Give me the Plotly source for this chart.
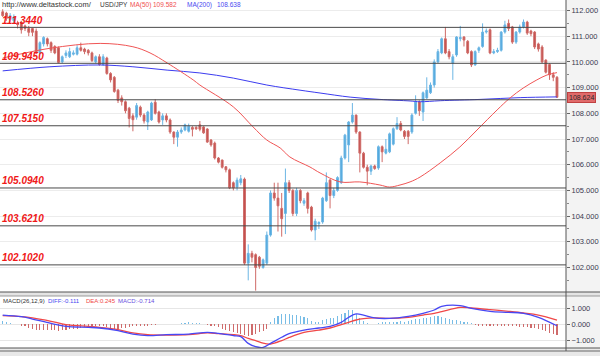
import plotly.graph_objects as go

# ---------------- data ----------------
opens = [111.95, 111.9, 111.65, 111.6, 111.5, 111.55, 111.4, 111.3, 111.3, 111.2,
         110.35, 110.7, 110.9, 110.75, 110.6, 110.55, 110.0, 110.25, 110.2, 110.3,
         110.3, 110.55, 110.5, 110.45, 110.35, 110.0, 110.2, 109.9, 110.15, 109.55,
         109.4, 108.9, 108.6, 108.45, 108.2, 107.9, 107.85, 108.24, 107.93, 107.66,
         107.74, 108.43, 108.05, 107.74, 107.9, 107.74, 107.27, 107.07, 107.27, 107.35,
         107.3, 107.45, 107.45, 107.55, 107.47, 107.39, 106.96, 106.84, 106.26, 106.18,
         105.92, 105.8, 105.3, 105.13, 105.3, 105.44, 102.17, 102.55, 102.5, 102.4,
         102.0, 102.17, 103.26, 104.9, 104.7, 104.3, 104.1, 105.3, 105.0, 104.1,
         105.0, 104.5, 104.9, 104.35, 103.46, 103.7, 103.77, 104.6, 105.4, 104.8,
         105.0, 105.3, 106.26, 106.77, 107.66, 107.93, 107.27, 106.45, 105.9, 105.75,
         105.95, 105.87, 106.7, 106.45, 106.5, 106.8, 107.4, 107.6, 107.3, 107.3,
         107.27, 108.0, 108.44, 108.05, 108.6, 108.8, 109.1, 110.0, 110.35, 110.9,
         110.4, 109.95, 110.27, 110.9, 110.97, 110.8, 110.4, 109.88, 110.45, 110.6,
         111.16, 111.25, 110.35, 110.4, 110.45, 111.16, 111.5, 111.36, 110.77, 111.16,
         111.36, 111.55, 111.2, 111.16, 110.7, 110.58, 110.07, 109.9, 109.5, 109.4]
highs = [112.05, 111.95, 111.9, 111.85, 111.6, 111.6, 111.45, 111.4, 111.3, 111.3,
         110.8, 111.0, 110.95, 110.8, 110.65, 110.6, 110.25, 110.45, 110.55, 110.45,
         110.65, 110.75, 110.55, 110.5, 110.4, 110.25, 110.3, 110.3, 110.2, 109.6,
         109.45, 108.95, 108.7, 108.5, 108.25, 108.0, 108.4, 108.3, 108.0, 108.1,
         108.45, 108.55, 108.1, 108.0, 108.0, 107.8, 107.3, 107.35, 107.45, 107.6,
         107.6, 107.5, 107.5, 107.7, 107.5, 107.42, 107.0, 106.9, 106.3, 106.2,
         105.95, 105.85, 105.35, 105.5, 105.6, 105.5, 102.9, 102.65, 102.55, 102.45,
         102.35, 103.4, 105.0, 105.3, 105.3, 104.9, 105.85, 105.4, 105.05, 105.1,
         105.05, 104.7, 104.95, 104.4, 103.9, 103.8, 104.75, 105.7, 105.45, 105.1,
         105.55, 106.35, 107.2, 107.7, 108.4, 107.95, 107.3, 106.5, 106.0, 106.0,
         106.0, 106.75, 106.75, 107.0, 107.25, 107.45, 107.85, 107.7, 107.35, 107.35,
         108.0, 108.7, 108.5, 108.85, 109.4, 109.2, 110.1, 110.5, 110.95, 111.36,
         110.5, 110.3, 111.0, 111.4, 111.0, 110.85, 110.45, 110.45, 110.6, 111.5,
         111.3, 111.3, 110.5, 110.55, 111.2, 111.6, 111.65, 111.4, 111.2, 111.45,
         111.65, 111.6, 111.25, 111.2, 110.75, 110.65, 110.1, 109.95, 109.6, 109.45]
lows = [111.75, 111.6, 111.55, 111.5, 111.3, 111.1, 111.2, 111.0, 111.0, 110.3,
        110.3, 110.6, 110.6, 110.35, 110.3, 109.95, 109.95, 110.15, 110.15, 110.25,
        110.25, 110.4, 110.3, 110.25, 110.0, 109.95, 109.85, 109.85, 109.5, 109.2,
        108.8, 108.4, 108.3, 108.0, 107.45, 107.3, 107.75, 107.85, 107.6, 107.35,
        107.7, 107.95, 107.6, 107.55, 107.65, 107.2, 106.8, 106.7, 107.2, 107.3,
        107.25, 107.1, 107.35, 107.3, 107.2, 106.85, 106.7, 106.2, 106.05, 105.85,
        105.7, 105.05, 105.0, 105.0, 105.2, 102.1, 101.5, 102.2, 101.1, 101.95,
        101.95, 102.1, 103.2, 104.6, 103.4, 103.2, 103.3, 104.9, 104.0, 104.0,
        104.5, 104.4, 104.1, 103.4, 103.06, 103.5, 103.7, 104.55, 104.3, 104.7,
        104.95, 105.25, 106.2, 106.1, 107.6, 107.2, 105.7, 105.85, 105.2, 105.6,
        105.8, 105.8, 106.1, 106.4, 106.45, 106.75, 107.35, 107.3, 107.0, 106.8,
        107.2, 107.95, 107.9, 107.7, 108.55, 108.75, 109.0, 109.95, 110.3, 110.3,
        110.1, 109.3, 110.2, 110.8, 110.6, 110.3, 109.8, 109.85, 110.35, 110.55,
        111.1, 110.3, 110.3, 110.35, 110.4, 111.1, 111.2, 110.7, 110.7, 111.1,
        111.3, 111.05, 111.0, 110.5, 110.4, 109.95, 109.55, 109.3, 109.25, 108.6]
closes = [111.8, 111.7, 111.8, 111.75, 111.45, 111.25, 111.3, 111.15, 111.15, 110.35,
          110.75, 110.95, 110.7, 110.45, 110.35, 109.98, 110.2, 110.35, 110.4, 110.35,
          110.55, 110.45, 110.4, 110.35, 110.05, 110.2, 109.9, 110.2, 109.55, 109.3,
          108.85, 108.5, 108.45, 108.1, 107.8, 107.75, 108.3, 107.93, 107.7, 108.05,
          108.4, 108.0, 107.66, 107.9, 107.74, 107.27, 107.07, 107.27, 107.35, 107.55,
          107.5, 107.38, 107.4, 107.38, 107.24, 106.88, 106.77, 106.26, 106.1, 105.9,
          105.8, 105.1, 105.1, 105.4, 105.45, 102.17, 102.55, 102.4, 102.0, 102.05,
          102.3, 103.26, 104.9, 104.7, 104.4, 103.9, 105.3, 105.0, 104.1, 105.0,
          104.6, 104.6, 104.3, 103.46, 103.8, 103.75, 104.7, 105.3, 104.8, 105.0,
          105.5, 106.26, 107.15, 107.66, 107.93, 107.27, 106.45, 105.9, 105.75, 105.95,
          105.85, 106.7, 106.5, 106.6, 107.2, 107.4, 107.6, 107.35, 107.1, 107.1,
          107.93, 108.44, 108.1, 108.8, 108.9, 109.1, 110.0, 110.4, 110.9, 110.35,
          110.2, 110.2, 110.97, 110.95, 110.85, 110.35, 109.88, 110.4, 110.55, 111.16,
          111.2, 110.35, 110.4, 110.45, 111.16, 111.44, 111.3, 110.77, 111.16, 111.36,
          111.55, 111.12, 111.1, 110.58, 110.5, 110.0, 109.6, 109.5, 109.4, 108.624]

ma50_idx = [0, 12.7, 26.2, 35, 39.6, 44.2, 51.2, 53, 62, 67.3, 71, 74.6, 77.2, 82.6,
            85.3, 90.7, 96, 101.4, 104, 106.8, 109.5, 112.2, 117.6, 122.9, 127.5,
            132.9, 136.4, 139.9, 143.6, 146.3, 149]
ma50_vals = [110.15, 110.53, 110.72, 110.59, 110.35, 109.96, 109.3, 109.1, 108.25,
             107.47, 106.96, 106.65, 106.3, 105.91, 105.68, 105.33, 105.33, 105.21,
             105.13, 105.21, 105.33, 105.52, 106.07, 106.69, 107.35, 108.13, 108.6,
             108.98, 109.3, 109.49, 109.582]
ma200_idx = [0, 12.7, 26.2, 35, 44.2, 53, 62, 71, 79.9, 85.3, 93.4, 101.4, 109.5,
             112.2, 117.6, 128.3, 139.1, 149]
ma200_vals = [109.65, 109.81, 109.88, 109.81, 109.68, 109.57, 109.37, 109.1, 108.9,
              108.79, 108.63, 108.54, 108.48, 108.45, 108.49, 108.54, 108.61, 108.638]

levels = [111.344, 109.945, 108.526, 107.515, 105.094, 103.621, 102.102]
level_labels = ["111.3440", "109.9450", "108.5260", "107.5150", "105.0940", "103.6210", "102.1020"]

price_ticks = [102, 103, 104, 105, 106, 107, 108, 109, 110, 111, 112]
last_price = 108.624

macd_idx = [0, 5, 8, 13, 17, 23, 26, 31, 35, 39, 44, 50, 55, 58, 62, 64, 66, 68, 70,
            72, 75, 77, 81, 85, 88, 91, 93, 95, 97, 100, 104, 109, 113, 116, 118,
            123, 126, 131, 136, 140, 144, 149]
diff_vals = [0.56, 0.46, 0.31, 0.04, -0.15, -0.21, -0.25, -0.42, -0.63, -0.73, -0.67,
             -0.63, -0.52, -0.58, -0.73, -0.79, -1.21, -1.42, -1.46, -1.21, -0.83,
             -0.6, -0.38, -0.25, -0.15, 0.1, 0.42, 0.63, 0.56, 0.38, 0.35, 0.48, 0.67,
             0.875, 1.1, 1.15, 0.98, 0.79, 0.73, 0.67, 0.42, -0.111]
dea_vals = [0.52, 0.46, 0.38, 0.17, -0.04, -0.15, -0.21, -0.35, -0.56, -0.67, -0.69,
            -0.67, -0.56, -0.6, -0.66, -0.73, -0.9, -1.04, -1.2, -1.25, -1.04, -0.84,
            -0.52, -0.38, -0.25, -0.04, 0.1, 0.25, 0.33, 0.38, 0.35, 0.42, 0.56, 0.66,
            0.77, 1.04, 1.0, 0.9, 0.79, 0.69, 0.56, 0.245]
hist_vals = [0.2, 0.15, 0.05, 0.02, -0.02,
             -0.1, -0.15, -0.25, -0.3, -0.35, -0.35,
             -0.4, -0.4, -0.38, -0.4, -0.42, -0.4,
             -0.35, -0.32, -0.3, -0.3,
             -0.25, -0.2, -0.18, -0.15, -0.12, -0.12,
             -0.15, -0.2, -0.25, -0.3, -0.3, -0.28,
             -0.22, -0.18, -0.15, -0.1,
             -0.1, -0.15, -0.1, -0.05, -0.04, -0.03,
             -0.03, -0.02, -0.02, -0.01,
             0.02, 0.05, 0.08, 0.1, 0.08, 0.05, 0.04, 0.02,
             -0.05, -0.1, -0.15,
             -0.2, -0.3, -0.35, -0.45, -0.5,
             -0.55, -0.6, -0.7, -0.72, -0.7,
             -0.6, -0.5, -0.45, -0.3,
             0.1, 0.35, 0.5,
             0.6, 0.62, 0.6,
             0.55, 0.55, 0.5,
             0.45, 0.35, 0.2,
             0.15, 0.15, 0.25,
             0.3, 0.35, 0.4, 0.5,
             0.6, 0.7, 0.85, 0.88,
             0.6, 0.4, 0.2,
             0.05, 0.02, 0.0,
             0.05, 0.1, 0.12, 0.1,
             0.12, 0.15, 0.18, 0.15,
             0.2, 0.25, 0.3, 0.3,
             0.35, 0.4, 0.45, 0.5,
             0.52, 0.45, 0.38, 0.3,
             0.28, 0.25, 0.2,
             0.15, 0.1, 0.05,
             -0.05, -0.1, -0.12, -0.1,
             -0.15, -0.12, -0.1, -0.12,
             -0.1, -0.12, -0.15, -0.15,
             -0.18, -0.2, -0.2, -0.22,
             -0.25, -0.3, -0.35, -0.45,
             -0.55, -0.6, -0.714]
macd_ticks = [-1, 0, 1]

# ---------------- figure ----------------
W, H = 600, 356
XR = 566 / W               # right edge of plot area
def py(p):                 # pixel row -> paper y
    return (H - p) / H

FONT = "Liberation Sans, Arial, sans-serif"
UP, DN = "#4ea6dc", "#c24f4c"

fig = go.Figure()
fig.add_trace(go.Candlestick(
    x=list(range(len(opens))), open=opens, high=highs, low=lows, close=closes,
    increasing=dict(line=dict(color="#6cb6e4", width=1), fillcolor=UP),
    decreasing=dict(line=dict(color="#cf6a67", width=1), fillcolor=DN),
    whiskerwidth=0, xaxis="x", yaxis="y", hoverinfo="skip"))
fig.add_trace(go.Scatter(x=ma200_idx, y=ma200_vals, mode="lines", line_shape="spline",
                         line=dict(color="#3c3cf0", width=1), xaxis="x", yaxis="y"))
fig.add_trace(go.Scatter(x=ma50_idx, y=ma50_vals, mode="lines", line_shape="spline",
                         line=dict(color="#f05555", width=1), xaxis="x", yaxis="y"))

fig.add_trace(go.Bar(x=list(range(len(hist_vals))), y=hist_vals, width=0.3,
                     marker=dict(color=["#78bde6" if v >= 0 else "#cf6b6b" for v in hist_vals],
                                 line=dict(width=0)),
                     xaxis="x2", yaxis="y2"))
fig.add_trace(go.Scatter(x=macd_idx, y=dea_vals, mode="lines", line_shape="spline",
                         line=dict(color="#f04848", width=1.3), xaxis="x2", yaxis="y2"))
fig.add_trace(go.Scatter(x=macd_idx, y=diff_vals, mode="lines", line_shape="spline",
                         line=dict(color="#4848f4", width=1.3), xaxis="x2", yaxis="y2"))

xr = [-2.7 / 3.72, (566 - 2.7) / 3.72]
shapes = []
shapes.append(dict(type="rect", xref="paper", yref="paper", x0=XR, x1=1, y0=0, y1=1,
                   fillcolor="#f3f3f3", line=dict(width=0), layer="below"))
shapes.append(dict(type="rect", xref="paper", yref="paper", x0=0, x1=1, y0=py(296), y1=py(292),
                   fillcolor="#e4e4e4", line=dict(width=0), layer="below"))
shapes.append(dict(type="rect", xref="paper", yref="paper", x0=0, x1=1, y0=0, y1=py(348),
                   fillcolor="#e8e8e8", line=dict(width=0), layer="below"))
for yy, col in [(292, "#555"), (296, "#999"), (348, "#555"), (351, "#666")]:
    shapes.append(dict(type="line", xref="paper", yref="paper", x0=0, x1=1, y0=py(yy), y1=py(yy),
                       line=dict(color=col, width=1)))
shapes.append(dict(type="line", xref="paper", yref="paper", x0=XR, x1=XR, y0=py(351), y1=1,
                   line=dict(color="#555", width=1)))
for lv in levels:
    shapes.append(dict(type="line", xref="paper", yref="y", x0=0, x1=XR, y0=lv, y1=lv,
                       line=dict(color="#4a4a4a", width=1)))

annotations = []
for lv, lab in zip(levels, level_labels):
    annotations.append(dict(x=0.0, xref="paper", y=lv, yref="y", yshift=7,
                            text="<b><i>" + lab + "</i></b>", showarrow=False,
                            xanchor="left", yanchor="middle",
                            font=dict(family=FONT, size=10, color="#f01818")))
annotations.append(dict(x=XR + 0.002, xref="paper", y=last_price, yref="y",
                        text=f"{last_price:.3f}", showarrow=False, xanchor="left",
                        yanchor="middle", bgcolor="#e06a6a", bordercolor="#c04040",
                        borderwidth=1, borderpad=1,
                        font=dict(family=FONT, size=7, color="#2a2a2a")))

hdr_y = py(5)
for x0, txt, col, fs in [(0, "http://www.deltastock.com/", "#333333", 7.5),
                         (98, "USD/JPY", "#333333", 6.5),
                         (128, "MA(50)", "#f05050", 6.5),
                         (151, f"{ma50_vals[-1]:.3f}", "#f05050", 6.5),
                         (185, "MA(200)", "#4a4af0", 6.5),
                         (215, f"{ma200_vals[-1]:.3f}", "#4a4af0", 6.5)]:
    annotations.append(dict(x=x0 / W, xref="paper", y=hdr_y, yref="paper", text=txt,
                            showarrow=False, xanchor="left", yanchor="middle",
                            font=dict(family=FONT, size=fs, color=col)))
m_y = py(301)
for x0, txt, col in [(1, "MACD(26,12,9)", "#333333"),
                     (46, f"DIFF:{diff_vals[-1]:.3f}", "#4a4af0"),
                     (84, f"DEA:{dea_vals[-1]:.3f}", "#f04848"),
                     (116, f"MACD:{hist_vals[-1]:.3f}", "#6a50e0")]:
    annotations.append(dict(x=x0 / W, xref="paper", y=m_y, yref="paper", text=txt,
                            showarrow=False, xanchor="left", yanchor="middle",
                            font=dict(family=FONT, size=6, color=col)))

ymain = [112 - (292 - 10.5) / 25.7, 112 + 10.5 / 25.7]
fig.update_layout(
    width=W, height=H, margin=dict(l=0, r=0, t=0, b=0),
    paper_bgcolor="white", plot_bgcolor="white", showlegend=False,
    hovermode=False, bargap=0,
    xaxis=dict(domain=[0, XR], range=xr, showticklabels=False, showgrid=False,
               zeroline=False, rangeslider=dict(visible=False), anchor="y"),
    yaxis=dict(domain=[py(292), 1], range=ymain, side="right", anchor="x",
               tickvals=price_ticks, tickformat=".3f", ticks="outside", ticklen=3,
               tickcolor="#666", showgrid=True, gridcolor="#ececec", zeroline=False,
               minor=dict(ticks="outside", ticklen=2, dtick=0.5, tickcolor="#888",
                          showgrid=False),
               tickfont=dict(family=FONT, size=7.5, color="#3a3a50")),
    xaxis2=dict(domain=[0, XR], range=xr, matches="x", showticklabels=False,
                showgrid=False, zeroline=False, anchor="y2"),
    yaxis2=dict(domain=[py(348), py(296)], range=[-1.5, 1.75], side="right", anchor="x2",
                tickvals=macd_ticks, tickformat=".3f", ticks="outside", ticklen=3,
                tickcolor="#666", showgrid=True, gridcolor="#e6e6e6", zeroline=False,
                tickfont=dict(family=FONT, size=7.5, color="#3a3a50")),
    shapes=shapes, annotations=annotations,
)
fig.write_html("out.html", config={"displayModeBar": False, "staticPlot": True},
               post_script="document.body.style.margin='0';document.body.style.overflow='hidden';")
